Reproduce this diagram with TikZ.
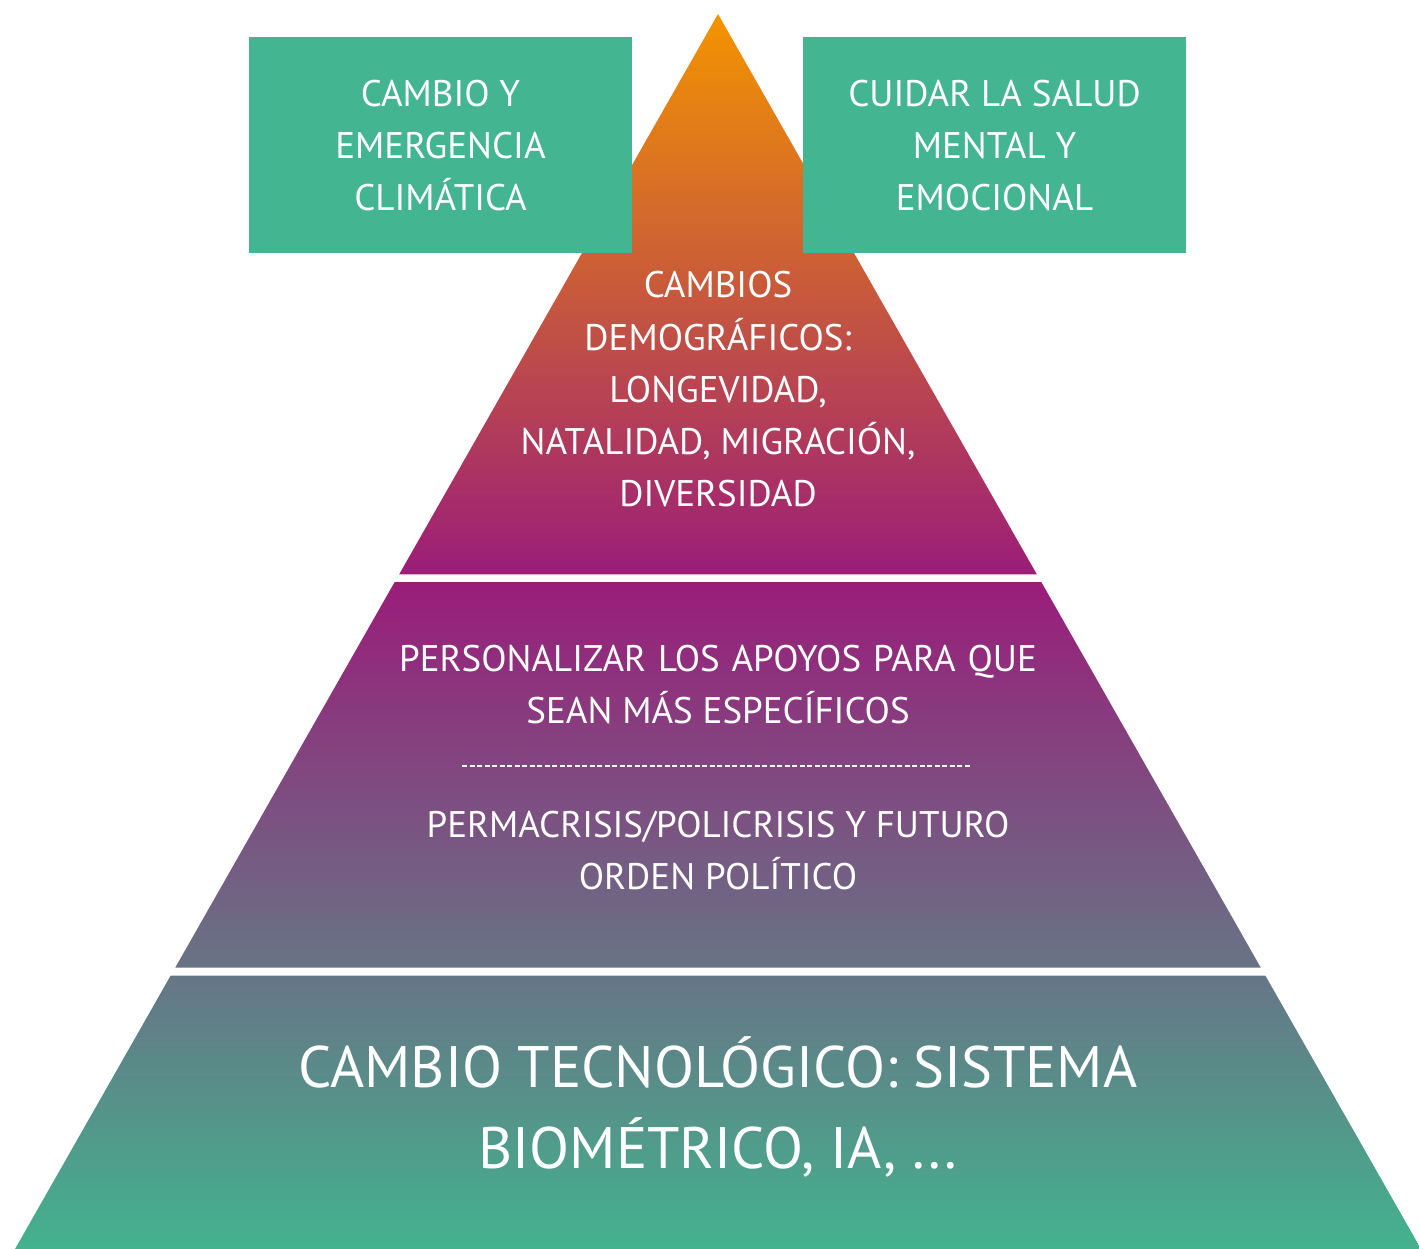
\documentclass[tikz,border=0pt]{standalone}
\usepackage{fontspec}
\setmainfont{PT Sans}
\definecolor{corange}{RGB}{243,148,0}
\definecolor{cpurple}{RGB}{154,28,122}
\definecolor{cteal}{RGB}{67,179,142}
\definecolor{cbox}{RGB}{67,181,145}
\pgfdeclareverticalshading{pyr}{100bp}{color(0bp)=(cteal); color(25bp)=(cteal); color(52.1bp)=(cpurple); color(75bp)=(corange); color(100bp)=(corange)}
\tikzset{
  lbl/.style={text=white, anchor=base, inner sep=0pt, font=\fontsize{37}{52}\selectfont},
  biglbl/.style={text=white, anchor=base, inner sep=0pt, font=\fontsize{58.5}{82}\selectfont},
  topbox/.style={fill=cbox, draw=none, minimum width=383pt, minimum height=216pt, inner sep=0pt},
  sep/.style={white, line width=1.6pt, dash pattern=on 5pt off 2.5pt}
}
\begin{document}
\begin{tikzpicture}[x=1pt,y=-1pt]
\useasboundingbox (0,0) rectangle (1419,1249);
\begin{scope}
\clip (718,14) -- (1036.8,574.3) -- (399.2,574.3) -- cycle
      (394.7,582) -- (1041.3,582) -- (1260.7,967.5) -- (175.3,967.5) -- cycle
      (170.6,975.7) -- (1265.4,975.7) -- (1421,1249) -- (15,1249) -- cycle;
\shade[shading=pyr] (10,14) rectangle (1425,1249);
\end{scope}
% top boxes
\node[topbox] (bl) at (440.5,145) {};
\node[topbox] (br) at (994.5,145) {};
\node[lbl] (bl1) at (440.5,107) {CAMBIO Y};
\node[lbl] (bl2) at (440.5,159) {EMERGENCIA};
\node[lbl] (bl3) at (440.5,211) {CLIMÁTICA};
\node[lbl] (br1) at (994.5,107) {CUIDAR LA SALUD};
\node[lbl] (br2) at (994.5,159) {MENTAL Y};
\node[lbl] (br3) at (994.5,211) {EMOCIONAL};
% top tier
\node[lbl] (d1) at (718,298) {CAMBIOS};
\node[lbl] (d2) at (718,350) {DEMOGRÁFICOS:};
\node[lbl] (d3) at (718,402) {LONGEVIDAD,};
\node[lbl] (d4) at (718,454) {NATALIDAD, MIGRACIÓN,};
\node[lbl] (d5) at (718,506) {DIVERSIDAD};
% middle tier
\node[lbl] (p1) at (718,671) {PERSONALIZAR\hspace{2pt} LOS\hspace{2pt} APOYOS\hspace{2pt} PARA\hspace{2pt} QUE};
\node[lbl] (p2) at (718,723) {SEAN MÁS ESPECÍFICOS};
\coordinate (sl) at (462,766);
\coordinate (sr) at (971,766);
\draw[sep] (sl) -- (sr);
\node[lbl] (c1) at (718,837) {PERMACRISIS/POLICRISIS Y FUTURO};
\node[lbl] (c2) at (718,889) {ORDEN POLÍTICO};
% bottom tier
\node[biglbl] (t1) at (718,1087) {CAMBIO TECNOLÓGICO: SISTEMA};
\node[biglbl] (t2) at (718,1168) {BIOMÉTRICO, IA, ...};
\end{tikzpicture}
\end{document}
